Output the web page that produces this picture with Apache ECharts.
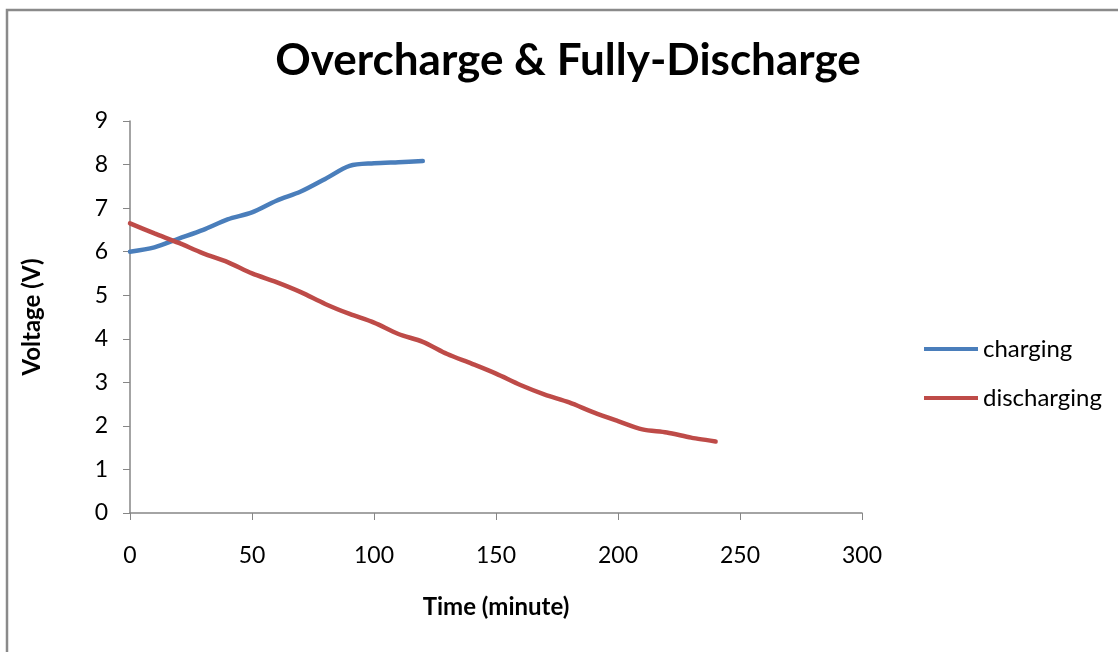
<!DOCTYPE html>
<html>
<head>
<meta charset="utf-8">
<script src="https://cdn.jsdelivr.net/npm/echarts@6/dist/echarts.min.js"></script>
<style>
html,body{margin:0;padding:0;background:#fff;}
#chart{width:1118px;height:652px;}
</style>
</head>
<body>
<div id="chart"></div>
<script>
const chargingTime = [0,10,20,30,40,50,60,70,80,90,100,110,120];
const chargingVolt = [6.0,6.1,6.3,6.5,6.74,6.9,7.17,7.38,7.67,7.97,8.03,8.055,8.08];
const dischargingTime = [0,10,20,30,40,50,60,70,80,90,100,110,120,130,140,150,160,170,180,190,200,210,220,230,240];
const dischargingVolt = [6.65,6.42,6.2,5.96,5.76,5.5,5.3,5.07,4.8,4.57,4.37,4.11,3.93,3.65,3.43,3.2,2.94,2.72,2.54,2.31,2.11,1.92,1.85,1.73,1.64];
const seriesNames = ['charging','discharging'];

const FONT = 'Lato';
const chart = echarts.init(document.getElementById('chart'));
chart.setOption({
  animation:false,
  backgroundColor:'#fff',
  title:{
    text:'Overcharge & Fully-Discharge',
    left:563, top:34, textAlign:'center',
    textStyle:{fontFamily:FONT,fontWeight:'bold',fontSize:44,color:'#000'}
  },
  graphic:[
    {type:'polyline',shape:{points:[[7,660],[7,10],[1130,10]]},style:{stroke:'#8a8a8a',lineWidth:2.5,fill:null}}
  ],
  legend:{
    orient:'vertical',
    left:919, top:332,
    itemWidth:54, itemHeight:4, itemGap:25,
    icon:'rect',
    textStyle:{fontFamily:FONT,fontSize:24,color:'#000',padding:[0,0,0,0]},
    data:seriesNames
  },
  grid:{left:130,right:256,top:121,bottom:139,containLabel:false},
  xAxis:{
    type:'value',min:0,max:300,interval:50,
    name:'Time (minute)',nameLocation:'middle',nameGap:82,
    nameTextStyle:{fontFamily:FONT,fontWeight:'bold',fontSize:24,color:'#000'},
    axisLine:{lineStyle:{color:'#868686',width:1.5}},
    axisTick:{show:true,length:7,lineStyle:{color:'#868686'}},
    axisLabel:{fontFamily:FONT,fontSize:23,color:'#000',margin:31},
    splitLine:{show:false}
  },
  yAxis:{
    type:'value',min:0,max:9,interval:1,
    name:'Voltage (V)',nameLocation:'middle',nameGap:86,nameRotate:90,
    nameTextStyle:{fontFamily:FONT,fontWeight:'bold',fontSize:24,color:'#000'},
    axisLine:{show:true,lineStyle:{color:'#868686',width:1.5}},
    axisTick:{show:true,length:7,lineStyle:{color:'#868686'}},
    axisLabel:{fontFamily:FONT,fontSize:23,color:'#000',margin:22},
    splitLine:{show:false}
  },
  series:[
    {name:seriesNames[0],type:'line',smooth:0.3,symbol:'none',
     data:chargingTime.map((t,i)=>[t,chargingVolt[i]]),
     lineStyle:{color:'#4a7ebb',width:4.5,cap:'round'},itemStyle:{color:'#4a7ebb'}},
    {name:seriesNames[1],type:'line',smooth:0.3,symbol:'none',
     data:dischargingTime.map((t,i)=>[t,dischargingVolt[i]]),
     lineStyle:{color:'#be4b48',width:4.5,cap:'round'},itemStyle:{color:'#be4b48'}}
  ]
});
</script>
</body>
</html>
